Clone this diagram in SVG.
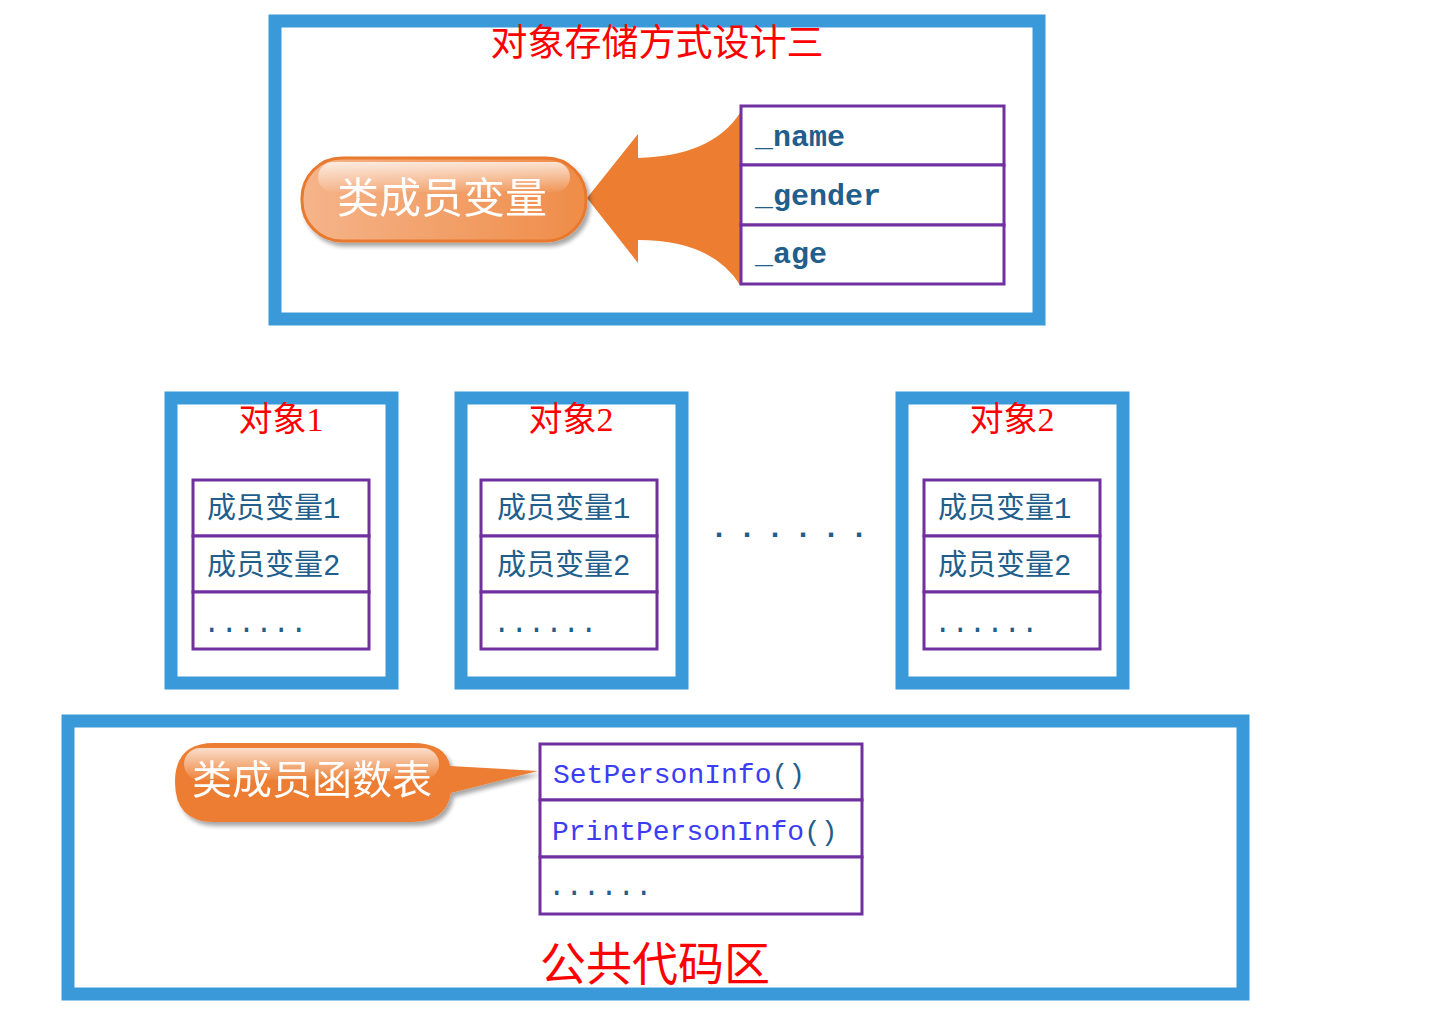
<svg xmlns="http://www.w3.org/2000/svg" width="1434" height="1035" viewBox="0 0 1434 1035">
<style>
.frame{fill:#fff;stroke:#3a99d9;stroke-width:13}
.cell{fill:#fff;stroke:#7030a0;stroke-width:3}
.red{fill:#ff0000;font-family:"Liberation Serif","Noto Sans CJK SC",serif}
.mono{fill:#215e8c;font-family:"Liberation Mono","Noto Sans CJK SC",monospace;font-weight:bold}
.cn{fill:#215e8c;font-family:"Liberation Mono","Noto Sans CJK SC",monospace;font-size:29px}
.fn{fill:#3c3cf5;font-family:"Liberation Mono",monospace;font-size:28px}
.par{fill:#215e8c}
.pilltxt{fill:#fff;font-family:"Noto Sans CJK SC",sans-serif;text-anchor:middle}
</style>
<defs>
<linearGradient id="pillGrad" x1="0" y1="0" x2="1" y2="0">
<stop offset="0" stop-color="#f5b48a"/>
<stop offset="1" stop-color="#ef8c48"/>
</linearGradient>
<linearGradient id="gloss" x1="0" y1="0" x2="0" y2="1">
<stop offset="0" stop-color="#fff" stop-opacity="0.75"/>
<stop offset="1" stop-color="#fff" stop-opacity="0.05"/>
</linearGradient>
<filter id="sh" x="-10%" y="-10%" width="130%" height="140%">
<feGaussianBlur in="SourceAlpha" stdDeviation="2"/>
<feOffset dx="3" dy="4"/>
<feComponentTransfer><feFuncA type="linear" slope="0.35"/></feComponentTransfer>
<feMerge><feMergeNode/><feMergeNode in="SourceGraphic"/></feMerge>
</filter>
</defs>
<rect width="1434" height="1035" fill="#fff"/>

<g id="top-frame">
<rect class="frame" x="275" y="21" width="764" height="298"/>
<text class="red" x="657" y="56" font-size="37" text-anchor="middle">对象存储方式设计三</text>
</g>

<g id="connectors">
<path d="M587,198 L638,134 L638,158 Q712,156 740,113 L740,285 Q712,240 638,240 L638,263 Z" fill="#ed7d31"/>
</g>

<g id="pill-vars" filter="url(#sh)">
<rect x="302" y="158" width="284" height="83" rx="40" fill="url(#pillGrad)" stroke="#e8792f" stroke-width="3"/>
<rect x="318" y="162" width="252" height="30" rx="15" fill="url(#gloss)"/>
<text class="pilltxt" x="442" y="213" font-size="42">类成员变量</text>
</g>

<g id="table-vars">
<rect class="cell" x="741" y="106" width="263" height="59"/>
<rect class="cell" x="741" y="165" width="263" height="60"/>
<rect class="cell" x="741" y="225" width="263" height="59"/>
<text class="mono" x="755" y="146" font-size="30">_name</text>
<text class="mono" x="755" y="205" font-size="30">_gender</text>
<text class="mono" x="755" y="263" font-size="30">_age</text>
</g>

<g id="obj1">
<rect class="frame" x="171" y="398" width="221" height="285"/>
<text class="red" x="281" y="431" font-size="34" text-anchor="middle">对象1</text>
<rect class="cell" x="193" y="480" width="176" height="56"/>
<rect class="cell" x="193" y="536" width="176" height="56"/>
<rect class="cell" x="193" y="592" width="176" height="57"/>
<text class="cn" x="207" y="518">成员变量1</text>
<text class="cn" x="207" y="575">成员变量2</text>
<text class="cn" x="203" y="632">......</text>
</g>

<g id="obj2">
<rect class="frame" x="461" y="398" width="221" height="285"/>
<text class="red" x="571" y="431" font-size="34" text-anchor="middle">对象2</text>
<rect class="cell" x="481" y="480" width="176" height="56"/>
<rect class="cell" x="481" y="536" width="176" height="56"/>
<rect class="cell" x="481" y="592" width="176" height="57"/>
<text class="cn" x="497" y="518">成员变量1</text>
<text class="cn" x="497" y="575">成员变量2</text>
<text class="cn" x="493" y="632">......</text>
</g>

<g id="ellipsis">
<text x="710" y="537" font-family="Liberation Mono,monospace" font-size="30" font-weight="bold" letter-spacing="10" fill="#215e8c">......</text>
</g>

<g id="obj3">
<rect class="frame" x="902" y="398" width="221" height="285"/>
<text class="red" x="1012" y="431" font-size="34" text-anchor="middle">对象2</text>
<rect class="cell" x="924" y="480" width="176" height="56"/>
<rect class="cell" x="924" y="536" width="176" height="56"/>
<rect class="cell" x="924" y="592" width="176" height="57"/>
<text class="cn" x="938" y="518">成员变量1</text>
<text class="cn" x="938" y="575">成员变量2</text>
<text class="cn" x="934" y="632">......</text>
</g>

<g id="code-frame">
<rect class="frame" x="68" y="721" width="1175" height="273"/>
<text class="red" x="655" y="980" font-size="46" text-anchor="middle">公共代码区</text>
</g>

<g id="pill-funcs" filter="url(#sh)">
<path d="M214,743 L412,743 Q446,743 450,766 L538,771 L451,793 Q446,822 412,822 L214,822 Q175,822 175,782 Q175,743 214,743 Z" fill="#ed7d31"/>
<rect x="184" y="748" width="255" height="32" rx="16" fill="url(#gloss)"/>
<text class="pilltxt" x="312" y="794" font-size="40">类成员函数表</text>
</g>

<g id="table-funcs">
<rect class="cell" x="540" y="744" width="322" height="56"/>
<rect class="cell" x="540" y="800" width="322" height="57"/>
<rect class="cell" x="540" y="857" width="322" height="57"/>
<text class="fn" x="553" y="783">SetPersonInfo<tspan class="par">()</tspan></text>
<text class="fn" x="552" y="840">PrintPersonInfo<tspan class="par">()</tspan></text>
<text class="cn" x="548" y="895">......</text>
</g>
</svg>
